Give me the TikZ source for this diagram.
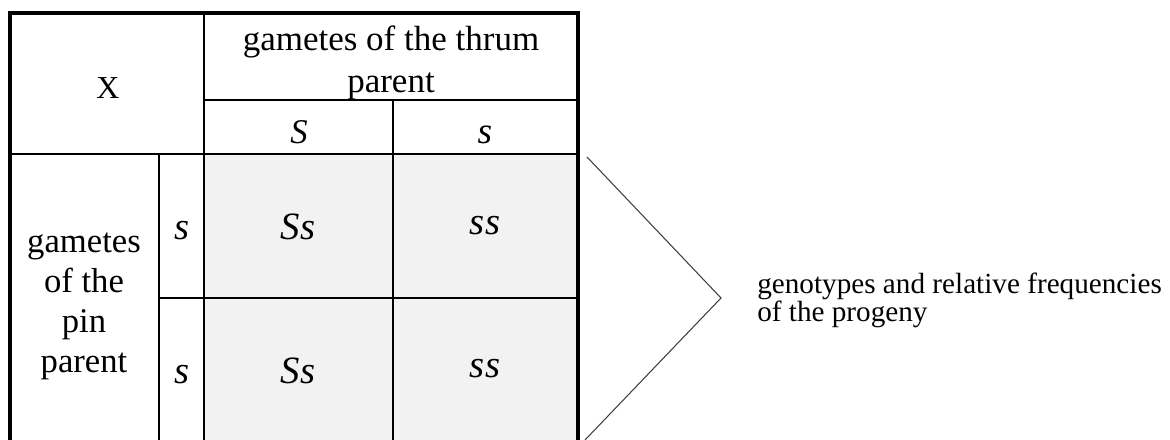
\documentclass[tikz,border=0pt]{standalone}
\usepackage{fontspec}
\setmainfont{Liberation Serif}
\begin{document}
\begin{tikzpicture}[x=0.75pt,y=-0.75pt,
  outer/.style={line width=2.6pt,black},
  thickl/.style={line width=2.1pt,black},
  thinl/.style={line width=1.5pt,black},
  txt/.style={inner sep=0pt},
  lbl/.style={inner sep=0pt,font=\fontsize{29pt}{29pt}\selectfont\itshape},
  chev/.style={line width=0.8pt,draw=chevgray}]
\definecolor{cellgray}{HTML}{F2F2F2}
\definecolor{chevgray}{HTML}{404040}
\useasboundingbox (0,0) rectangle (1170,439);
% cell fills
\fill[cellgray] (204,154) rectangle (578,450);
% grid
\draw[thinl] (204,100) -- (578,100);
\draw[thinl] (159,154) -- (159,450);
\draw[thickl] (10,154) -- (578,154);
\draw[thickl] (159,298) -- (578,298);
\draw[thickl] (204,13) -- (204,450);
\draw[thickl] (393,100) -- (393,450);
\draw[outer] (10,450) -- (10,13) -- (578,13) -- (578,450);
% texts
\node[txt,font=\fontsize{24pt}{24pt}\selectfont] (x) at (108,88) {X};
\node[txt,align=center,font=\fontsize{26.25pt}{31.5pt}\selectfont] (hdr) at (391,63) {gametes of the thrum\\parent};
\node[lbl,font=\fontsize{26pt}{26pt}\selectfont\itshape] (hS) at (299,132) {S};
\node[lbl,font=\fontsize{28pt}{28pt}\selectfont\itshape] (hs) at (485,135) {s};
\node[txt,align=center,font=\fontsize{26pt}{30pt}\selectfont] (pin) at (84,306) {gametes\\of the\\pin\\parent};
\node[lbl] (r1) at (182,231) {s};
\node[lbl] (r2) at (182,375) {s};
\node[lbl] (c11) at (298,227) {Ss};
\node[lbl] (c12) at (485,226) {ss};
\node[lbl] (c21) at (298,371) {Ss};
\node[lbl] (c22) at (485,369) {ss};
\node[txt,anchor=west,align=left,font=\fontsize{21.9pt}{18.75pt}\selectfont] (prog) at (757,300.5) {genotypes and relative frequencies\\of the progeny};
% chevron
\coordinate (ctop) at (587,157);
\coordinate (ctip) at (721,298);
\coordinate (cbot) at (585,440);
\draw[chev] (ctop) -- (ctip) -- (cbot);
\end{tikzpicture}
\end{document}
